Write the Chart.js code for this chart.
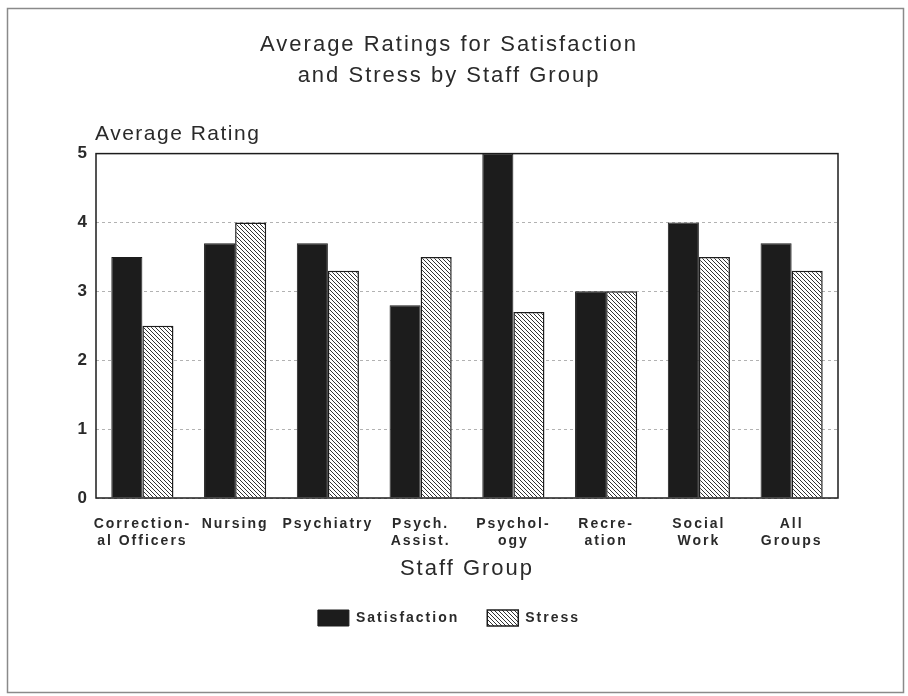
<!DOCTYPE html>
<html>
<head>
<meta charset="utf-8">
<script src="https://cdn.jsdelivr.net/npm/chart.js@4/dist/chart.umd.min.js"></script>
<style>
  html, body { margin: 0; padding: 0; background: #fff; }
  #wrap { width: 908px; height: 696px; }
</style>
</head>
<body>
<div id="wrap"><canvas id="myChart" width="908" height="696"></canvas></div>
<script>
// data
var groups = [
  ["Correction-", "al Officers"],
  ["Nursing"],
  ["Psychiatry"],
  ["Psych.", "Assist."],
  ["Psychol-", "ogy"],
  ["Recre-", "ation"],
  ["Social", "Work"],
  ["All", "Groups"]
];
var satisfaction = [3.5, 3.7, 3.7, 2.8, 5.0, 3.0, 4.0, 3.7];
var stress = [2.5, 4.0, 3.3, 3.5, 2.7, 3.0, 3.5, 3.3];
var yTicks = [0, 1, 2, 3, 4, 5];

var ink = "#1c1c1c";
var textColor = "#2a2a2a";
var fontFamily = "'Liberation Sans', Arial, sans-serif";

// diagonal hatch for the stress bars
function hatch() {
  var c = document.createElement("canvas");
  c.width = 4;
  c.height = 4;
  var g = c.getContext("2d");
  g.fillStyle = "#fff";
  g.fillRect(0, 0, 4, 4);
  g.strokeStyle = ink;
  g.lineWidth = 0.9;
  g.beginPath();
  g.moveTo(-1, -1); g.lineTo(5, 5);
  g.moveTo(-1, 3); g.lineTo(1, 5);
  g.moveTo(3, -1); g.lineTo(5, 1);
  g.stroke();
  return g.createPattern(c, "repeat");
}

// the old plotter lettering is widely spaced
var spacing = {
  id: "spacing",
  beforeUpdate: function (chart) { chart.ctx.letterSpacing = "2px"; },
  beforeDraw: function (chart) { chart.ctx.letterSpacing = "2px"; }
};

var extras = {
  id: "extras",
  afterDraw: function (chart) {
    var ctx = chart.ctx;
    var a = chart.chartArea;
    ctx.save();
    // plot frame
    ctx.strokeStyle = ink;
    ctx.lineWidth = 1.5;
    ctx.strokeRect(a.left, a.top, a.right - a.left, a.bottom - a.top);
    // page frame
    ctx.strokeStyle = "#8a8a8a";
    ctx.lineWidth = 1.5;
    ctx.strokeRect(7.5, 8.5, 896, 684);
    // y axis caption above the plot
    ctx.fillStyle = textColor;
    ctx.letterSpacing = "1.5px";
    ctx.font = "21px " + fontFamily;
    ctx.textAlign = "left";
    ctx.textBaseline = "middle";
    ctx.fillText("Average Rating", a.left - 1, a.top - 19);
    ctx.restore();
  }
};

var ctx = document.getElementById("myChart").getContext("2d");
var chart = new Chart(ctx, {
  type: "bar",
  data: {
    labels: groups,
    datasets: [
      {
        label: "Satisfaction",
        data: satisfaction,
        backgroundColor: ink,
        borderColor: ink,
        borderWidth: 1
      },
      {
        label: "Stress",
        data: stress,
        backgroundColor: hatch(),
        borderColor: ink,
        borderWidth: 1.5
      }
    ]
  },
  options: {
    responsive: false,
    animation: false,
    layout: { padding: { left: 0, right: 10, top: 0, bottom: 60 } },
    datasets: {
      bar: { categoryPercentage: 0.67, barPercentage: 1.0 }
    },
    plugins: {
      title: {
        display: true,
        text: ["Average Ratings for Satisfaction", "and Stress by Staff Group"],
        color: textColor,
        font: { family: fontFamily, size: 22, weight: "normal", lineHeight: 1.4 },
        padding: { top: 30, bottom: 62 }
      },
      legend: {
        position: "bottom",
        labels: {
          color: textColor,
          boxWidth: 31,
          boxHeight: 16,
          padding: 28,
          font: { family: fontFamily, size: 14, weight: "bold" }
        }
      },
      tooltip: { enabled: false }
    },
    scales: {
      x: {
        grid: { display: false },
        border: { display: false },
        ticks: {
          color: textColor,
          padding: 10,
          maxRotation: 0,
          autoSkip: false,
          font: { family: fontFamily, size: 14, weight: "bold", lineHeight: 1.2 }
        },
        title: {
          display: true,
          text: "Staff Group",
          color: textColor,
          font: { family: fontFamily, size: 22, weight: "normal" },
          padding: { top: -4, bottom: 0 }
        }
      },
      y: {
        min: 0,
        max: 5,
        afterBuildTicks: function (scale) {
          scale.ticks = yTicks.map(function (v) { return { value: v }; });
        },
        afterFit: function (scale) { scale.width = 96; },
        grid: {
          color: "rgba(0,0,0,0.3)",
          lineWidth: 1,
          drawTicks: false
        },
        border: { display: false, dash: [3, 3] },
        ticks: {
          color: textColor,
          padding: 7,
          font: { family: fontFamily, size: 17, weight: "bold" }
        }
      },
      // empty right margin so the title centres on the page
      yRight: {
        type: "linear",
        position: "right",
        min: 0,
        max: 5,
        afterFit: function (scale) { scale.width = 60; },
        grid: { display: false },
        border: { display: false },
        ticks: { display: false }
      }
    }
  },
  plugins: [spacing, extras]
});
</script>
</body>
</html>
